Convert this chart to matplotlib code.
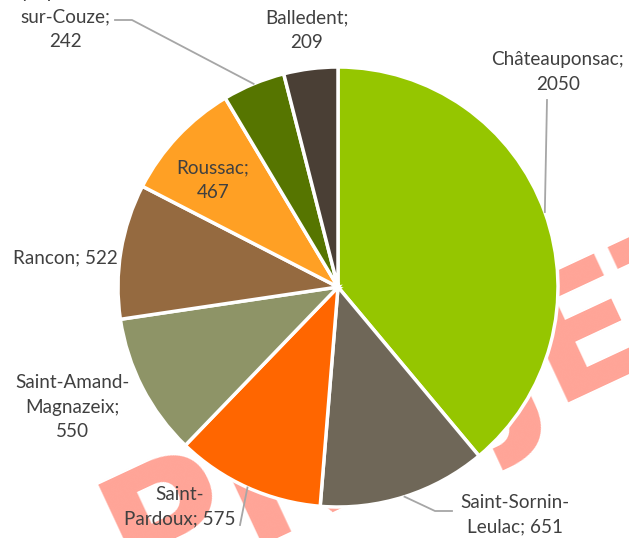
import matplotlib.pyplot as plt
import numpy as np

# Data
communes = ['Châteauponsac', 'Saint-Sornin-Leulac', 'Saint-Pardoux',
            'Saint-Amand-Magnazeix', 'Rancon', 'Roussac',
            'Saint-Symphorien-sur-Couze', 'Balledent']
values = [2050, 651, 575, 550, 522, 467, 242, 209]
colors = ['#95C600', '#6F6758', '#FF6600', '#8E9467',
          '#956A40', '#FFA024', '#567500', '#4A3F35']

label_texts = ['Châteauponsac;\n2050', 'Saint-Sornin-\nLeulac; 651',
               'Saint-\nPardoux; 575', 'Saint-Amand-\nMagnazeix;\n550',
               'Rancon; 522', 'Roussac;\n467',
               'Saint-\nSymphorien-\nsur-Couze;\n242', 'Balledent;\n209']

# Layout (pixels of the 629x538 image)
W, H = 629, 538
CX, CY, R = 338, 287, 220


def px(x, y):
    return (x - CX) / R, (CY - y) / R


label_pos = [(558, 72), (515, 515), (180, 507), (72, 407),
             (65, 258), (213, 180), (65, 5), (307, 30)]
# leader line bends (pixels), None when no line
leader_pts = [[(547, 100)], [(435, 511), (452, 511)], [(240, 525)], None,
              None, None, [(132, 20), (115, 20)], None]

fig = plt.figure(figsize=(W / 100, H / 100), dpi=100)
ax = fig.add_axes([0, 0, 1, 1])

wedges, _ = ax.pie(values, colors=colors, startangle=90, counterclock=False,
                   radius=1.0, wedgeprops=dict(edgecolor='white', linewidth=2.5))
for w in wedges:
    w.set_zorder(2)

ax.set_xlim(-CX / R, (W - CX) / R)
ax.set_ylim(-(H - CY) / R, CY / R)
ax.set_aspect('equal')
ax.axis('off')

# watermark behind the pie
ax.text(*px(135, 597), 'PROJET', fontsize=122, fontweight='bold',
        color='#FFA497', rotation=25, rotation_mode='anchor',
        ha='left', va='baseline', family='DejaVu Sans', zorder=0)

text_color = '#404040'
for i, w in enumerate(wedges):
    x, y = px(*label_pos[i])
    ax.text(x, y, label_texts[i], ha='center', va='center', multialignment='center',
            fontsize=13.6, color=text_color, family='Lato', linespacing=1.52, zorder=4)
    if leader_pts[i] is not None:
        mid = np.deg2rad((w.theta1 + w.theta2) / 2)
        xs = [np.cos(mid)]
        ys = [np.sin(mid)]
        for p in leader_pts[i]:
            a, b = px(*p)
            xs.append(a)
            ys.append(b)
        ax.plot(xs, ys, color='#A6A6A6', lw=1.3, zorder=3)

plt.savefig('out.png', dpi=100)
